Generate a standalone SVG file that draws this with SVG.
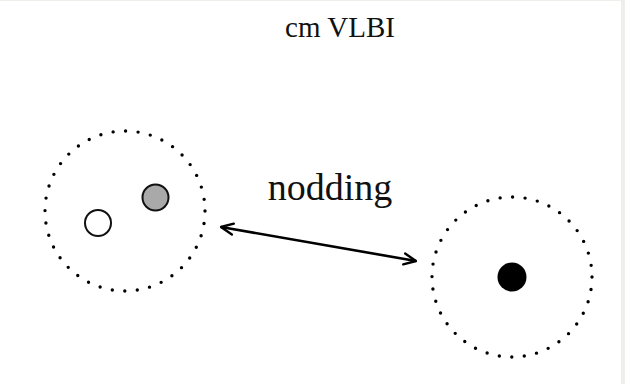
<svg xmlns="http://www.w3.org/2000/svg" width="625" height="384" viewBox="0 0 625 384">
  <style>
    .ring { fill: none; stroke: #000; stroke-width: 3.4; stroke-linecap: round; }
    .dish { stroke: #111; stroke-width: 2; }
    .lbl { font-family: "Liberation Serif", "Times New Roman", serif; fill: #111; text-anchor: middle; }
  </style>
  <defs>
    <marker id="head" viewBox="0 0 14 14" refX="13" refY="7" markerWidth="14" markerHeight="14" markerUnits="userSpaceOnUse" orient="auto-start-reverse">
      <path d="M1,1.5 L13,7 L1,12.5" fill="none" stroke="#000" stroke-width="2.4" stroke-linecap="round" stroke-linejoin="round"/>
    </marker>
  </defs>
  <rect x="0" y="0" width="625" height="384" fill="#ffffff"/>
  <rect x="621" y="0" width="4" height="384" fill="#efeeea"/>
  <line x1="0" y1="0.5" x2="621" y2="0.5" stroke="#eeeeea" stroke-width="1"/>

  <text class="lbl" x="340" y="37" font-size="29">cm VLBI</text>

  <g id="left-field">
    <circle class="ring" cx="125" cy="211" r="80" stroke-dasharray="0 12.566"/>
    <circle id="open-source" class="dish" cx="98" cy="223" r="13" fill="#ffffff"/>
    <circle id="gray-source" class="dish" cx="155.5" cy="197.5" r="13" fill="#a9a9a9"/>
  </g>

  <g id="right-field">
    <circle class="ring" cx="512" cy="277" r="80" stroke-dasharray="0 12.566"/>
    <circle id="black-source" cx="512" cy="277" r="14.5" fill="#000"/>
  </g>

  <g id="connectors">
    <line x1="221" y1="227" x2="416" y2="261" stroke="#000" stroke-width="2.6" marker-start="url(#head)" marker-end="url(#head)"/>
  </g>

  <text class="lbl" x="330" y="200" font-size="38">nodding</text>
</svg>
